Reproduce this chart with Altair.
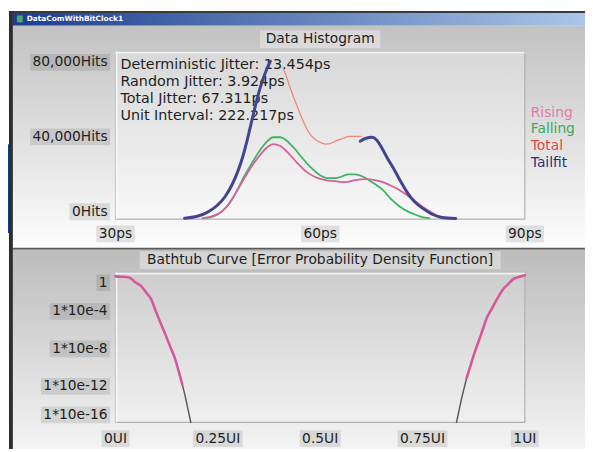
import altair as alt
import pandas as pd

FONT = "DejaVu Sans"

# ------------------------------------------------------------------ data
rising_ps = [42.72, 44.16, 45.18, 46.34, 47.49, 48.80, 49.95, 51.11, 52.12, 53.13,
             54.15, 55.30, 56.46, 57.90, 59.35, 60.80, 62.24, 63.69, 65.13, 66.58,
             68.02, 69.18, 70.19, 71.35, 72.65, 73.81, 74.96, 76.27, 77.71, 79.30]
rising_hits = [465, 1395, 2791, 6047, 11628, 19070, 25116, 30233, 33953, 35814,
               34884, 31628, 27442, 22791, 20000, 18605, 18140, 17674, 18605, 19070,
               18605, 17674, 16279, 14419, 11628, 8837, 6047, 3256, 930, 465]

falling_ps = [43.01, 44.46, 45.61, 46.77, 47.78, 48.80, 49.95, 51.11, 52.12, 53.13,
              54.15, 55.01, 56.17, 57.47, 58.63, 59.78, 61.08, 62.24, 63.25, 64.12,
              65.13, 66.15, 67.16, 68.02, 69.18, 70.48, 71.64, 72.80, 73.81, 74.96, 75.98]
falling_hits = [465, 1395, 3721, 7907, 13488, 20000, 26512, 32558, 36744, 39070,
                39070, 37674, 33953, 28837, 24651, 21395, 19535, 19535, 20465, 21395,
                21395, 20465, 18605, 16744, 13953, 9302, 6047, 3721, 2326, 930, 465]

total_ps = [54.58, 55.01, 55.59, 56.17, 56.89, 57.62, 58.34, 59.06, 59.93, 60.80,
            61.66, 62.53, 63.40, 64.27, 65.13, 66.00]
total_hits = [72093, 68372, 62791, 57674, 51628, 46047, 41395, 38605, 36744, 35814,
              36279, 37674, 38605, 39535, 39535, 39535]

tailfit_left_ps = [40.12, 42.00, 43.45, 44.89, 46.05, 47.06, 47.93, 48.65, 49.23,
                   49.81, 50.39, 50.97, 51.54, 52.12, 52.70]
tailfit_left_hits = [465, 1395, 3256, 6512, 10698, 16279, 22791, 29767, 36744,
                     44651, 52558, 60000, 66047, 71163, 75349]
tailfit_right_ps = [65.86, 66.72, 67.59, 68.31, 69.04, 69.90, 70.92, 71.93, 72.80,
                    73.81, 75.25, 76.41, 77.71, 79.88]
tailfit_right_hits = [37209, 38605, 39070, 37674, 33953, 28837, 23256, 17209, 12558,
                      8372, 4651, 2326, 930, 300]

bathtub_left_ui = [0.0, 0.015, 0.031, 0.040, 0.047, 0.063, 0.075, 0.087, 0.096, 0.104,
                   0.113, 0.123, 0.134, 0.145, 0.155, 0.163]
bathtub_left_ber = [3.8e-1, 3.5e-1, 3.0e-1, 1.9e-1, 1.0e-1, 3.4e-2, 7.0e-3, 1.4e-3,
                    1.4e-4, 1.8e-5, 2.0e-6, 1.8e-7, 1.1e-8, 7.0e-10, 2.2e-11, 1.2e-12]
bathtub_left_ext_ui = [0.163, 0.171, 0.177, 0.184]
bathtub_left_ext_ber = [1.2e-12, 4.3e-14, 2.6e-15, 1.0e-16]

bathtub_right_ui = [0.858, 0.866, 0.875, 0.883, 0.892, 0.899, 0.906, 0.917, 0.928,
                    0.938, 0.947, 0.959, 0.971, 0.985, 1.0]
bathtub_right_ber = [5.5e-12, 7.6e-11, 1.4e-9, 1.4e-8, 1.8e-7, 1.4e-6, 1.1e-5, 8.9e-5,
                     6.9e-4, 4.0e-3, 1.6e-2, 5.5e-2, 1.8e-1, 3.2e-1, 5.0e-1]
bathtub_right_ext_ui = [0.833, 0.840, 0.846, 0.852, 0.858]
bathtub_right_ext_ber = [1.0e-16, 2.6e-15, 4.3e-14, 5.0e-13, 5.5e-12]

stats_lines = ["Deterministic Jitter: 13.454ps", "Random Jitter: 3.924ps",
               "Total Jitter: 67.311ps", "Unit Interval: 222.217ps"]
legend_names = ["Rising", "Falling", "Total", "Tailfit"]
legend_colors = ["#e27aac", "#3aa85a", "#e4493f", "#2b2f7a"]

hist_ticks = [0, 40000, 80000]
hist_tick_labels = ["0Hits", "40,000Hits", "80,000Hits"]
ps_ticks = [30, 60, 90]
ps_tick_labels = ["30ps", "60ps", "90ps"]
ber_ticks = [1, 1e-4, 1e-8, 1e-12, 1e-16]
ber_tick_labels = ["1", "1*10e-4", "1*10e-8", "1*10e-12", "1*10e-16"]
ui_ticks = [0, 0.25, 0.5, 0.75, 1]
ui_tick_labels = ["0UI", "0.25UI", "0.5UI", "0.75UI", "1UI"]

window_title = "DataComWithBitClock1"
hist_title = "Data Histogram"
bathtub_title = "Bathtub Curve [Error Probability Density Function]"

# ------------------------------------------------------------------ layout (page px)
PX0, PW = 117, 415
U_Y0, U_H = 49, 170
L_Y0, L_H = 273, 152
FS = 14

ONE = pd.DataFrame({"k": [0]})

W = {c: 0.636 for c in "0123456789"}
W.update({",": 0.318, ".": 0.318, "*": 0.5, "-": 0.361, "e": 0.615, "H": 0.752,
          "i": 0.278, "t": 0.392, "s": 0.521, "p": 0.635, "U": 0.732, "I": 0.295})


def text_w(s, size=FS):
    return sum(W.get(c, 0.6) for c in s) * size


def vgrad(c1, c2):
    return {"gradient": "linear", "x1": 0, "y1": 0, "x2": 0, "y2": 1,
            "stops": [{"offset": 0, "color": c1}, {"offset": 1, "color": c2}]}


def hgrad(c1, c2):
    return {"gradient": "linear", "x1": 0, "y1": 0, "x2": 1, "y2": 0,
            "stops": [{"offset": 0, "color": c1}, {"offset": 1, "color": c2}]}


def deco_rect(x1, y1, x2, y2, oy, **mark):
    return alt.Chart(ONE).mark_rect(**mark).encode(
        x=alt.value(x1 - PX0), x2=alt.value(x2 - PX0),
        y=alt.value(y1 - oy), y2=alt.value(y2 - oy))


def deco_text(s, x, y, oy, **mark):
    m = dict(font=FONT, fontSize=FS, color="#1e1e1e", baseline="middle", align="left")
    m.update(mark)
    return alt.Chart(pd.DataFrame({"t": [s]})).mark_text(**m).encode(
        x=alt.value(x - PX0), y=alt.value(y - oy), text="t:N")


def y_labels(ticks, labels, scale, top_off, mid_off, bot_off):
    layers = []
    vmax, vmin = max(ticks), min(ticks)
    for v, lab in zip(ticks, labels):
        off = top_off if v == vmax else (bot_off if v == vmin else mid_off)
        w = text_w(lab)
        base = alt.Chart(pd.DataFrame({"v": [v], "label": [lab]}))
        yenc = alt.Y("v:Q", scale=scale, axis=None)
        layers.append(base.mark_rect(fill="#000000", fillOpacity=0.1,
                                     yOffset=off - 8.5, y2Offset=off + 8.5).encode(
            x=alt.value(-8 - w - 2.5), x2=alt.value(-5.5), y=yenc, y2=alt.Y2("v")))
        layers.append(base.mark_text(font=FONT, fontSize=FS, color="#1e1e1e",
                                     align="right", baseline="middle", dy=off).encode(
            x=alt.value(-8), y=yenc, text="label:N"))
    return layers


def x_labels(ticks, labels, scale, yc):
    layers = []
    for v, lab in zip(ticks, labels):
        half = text_w(lab) / 2 + 2.5
        base = alt.Chart(pd.DataFrame({"v": [v], "label": [lab]}))
        xenc = alt.X("v:Q", scale=scale, axis=None)
        layers.append(base.mark_rect(fill="#000000", fillOpacity=0.1,
                                     xOffset=-half, x2Offset=half).encode(
            x=xenc, x2=alt.X2("v"), y=alt.value(yc - 8.5), y2=alt.value(yc + 8.5)))
        layers.append(base.mark_text(font=FONT, fontSize=FS, color="#1e1e1e",
                                     align="center", baseline="middle").encode(
            x=xenc, y=alt.value(yc), text="label:N"))
    return layers


ps_scale = alt.Scale(domain=[30, 90], nice=False, zero=False)
hits_scale = alt.Scale(domain=[0, 80000], nice=False)
ui_scale = alt.Scale(domain=[0, 1], nice=False, zero=False)
ber_scale = alt.Scale(type="log", domain=[1e-16, 1], nice=False)


def curve(xs, ys, parts, xscale, yscale, color, width):
    df = pd.DataFrame({"x": xs, "y": ys, "part": parts})
    return alt.Chart(df).mark_line(color=color, strokeWidth=width, interpolate="monotone",
                                   strokeCap="round", strokeJoin="round").encode(
        x=alt.X("x:Q", scale=xscale, axis=None),
        y=alt.Y("y:Q", scale=yscale, axis=None),
        detail="part:N")


# ------------------------------------------------------------------ upper panel
U = U_Y0
upper_layers = [
    deco_rect(8, 8, 593, 452, U, fill="white"),
    deco_rect(9, 8, 593, 10, U, fill="#3a3a3a"),
    deco_rect(9, 8, 13, 452, U, fill="#2e2e2e"),
    deco_rect(8, 143, 9, 233, U, fill="#0b3a8e"),
    deco_rect(13, 10, 593, 23, U, fill=hgrad("#1b3d8d", "#aac6ea")),
    deco_rect(17, 12.5, 23, 19.5, U, fill="#4aa870"),
    deco_text(window_title, 27, 16.5, U, fontSize=7.5, fontWeight="bold", color="white"),
    deco_rect(13, 23, 593, 248, U, fill=vgrad("#c2c2c2", "#fdfdfd")),
    deco_rect(13, 248, 593, 250, U, fill="#5a5a5a"),
    deco_rect(PX0, U_Y0, PX0 + PW, U_Y0 + U_H, U, fill=vgrad("#d8d8d8", "#f8f8f8"),
              stroke="#b0b0b0", strokeWidth=1.2),
    deco_rect(PX0, U_Y0, PX0 + 2, U_Y0 + U_H, U, fill="white", fillOpacity=0.7),
    deco_rect(PX0, U_Y0, PX0 + PW, U_Y0 + 2, U, fill="white", fillOpacity=0.7),
    deco_rect(263.5, 27.5, 385.5, 45.5, U, fill="white", fillOpacity=0.35),
    deco_text(hist_title, 324.5, 36.5, U, align="center"),
]
upper_layers += y_labels(hist_ticks, hist_tick_labels, hits_scale, 11, 1.5, -7.5)
upper_layers += x_labels(ps_ticks, ps_tick_labels, ps_scale, 234 - U_Y0)
for i, line in enumerate(stats_lines):
    upper_layers.append(deco_text(line, 122, 63 + 17 * i, U, fontSize=14.5))
for i, (name, col) in enumerate(zip(legend_names, legend_colors)):
    upper_layers.append(deco_text(name, 538, 111 + 16.9 * i, U, color=col))

upper_layers += [
    curve(falling_ps, falling_hits, ["f"] * len(falling_ps), ps_scale, hits_scale, "#3cb464", 1.8),
    curve(rising_ps, rising_hits, ["r"] * len(rising_ps), ps_scale, hits_scale, "#d8609a", 1.8),
    curve(total_ps, total_hits, ["t"] * len(total_ps), ps_scale, hits_scale, "#f08878", 1.3),
    curve(tailfit_left_ps + tailfit_right_ps, tailfit_left_hits + tailfit_right_hits,
          ["a"] * len(tailfit_left_ps) + ["b"] * len(tailfit_right_ps),
          ps_scale, hits_scale, "#43438f", 3),
]

upper = alt.layer(*upper_layers).properties(width=PW, height=U_H)

# ------------------------------------------------------------------ lower panel
L = L_Y0
lower_layers = [
    deco_rect(13, 250, 593, 452, L, fill=vgrad("#bcbcbc", "#f4f4f4")),
    deco_rect(PX0, L_Y0, PX0 + PW, L_Y0 + L_H, L, fill=vgrad("#cdcdcd", "#f0f0f0"),
              stroke="#b0b0b0", strokeWidth=1.2),
    deco_rect(PX0, L_Y0, PX0 + 2, L_Y0 + L_H, L, fill="white", fillOpacity=0.7),
    deco_rect(PX0, L_Y0, PX0 + PW, L_Y0 + 2, L, fill="white", fillOpacity=0.7),
    deco_rect(141.5, 251.5, 507.5, 269.5, L, fill="white", fillOpacity=0.35),
    deco_text(bathtub_title, 324.5, 260.5, L, align="center"),
]
lower_layers += y_labels(ber_ticks, ber_tick_labels, ber_scale, 10.5, 1.5, -7.5)
lower_layers += x_labels(ui_ticks, ui_tick_labels, ui_scale, 441.5 - L_Y0)
lower_layers += [
    curve(bathtub_left_ext_ui + bathtub_right_ext_ui, bathtub_left_ext_ber + bathtub_right_ext_ber,
          ["a"] * len(bathtub_left_ext_ui) + ["b"] * len(bathtub_right_ext_ui),
          ui_scale, ber_scale, "#5a5a5a", 1.5),
    curve(bathtub_left_ui + bathtub_right_ui, bathtub_left_ber + bathtub_right_ber,
          ["a"] * len(bathtub_left_ui) + ["b"] * len(bathtub_right_ui),
          ui_scale, ber_scale, "#d4589a", 2.6),
]

lower = alt.layer(*lower_layers).properties(width=PW, height=L_H)

chart = alt.vconcat(upper, lower, spacing=L_Y0 - U_Y0 - U_H, bounds="flush").properties(
    padding=0, autosize=alt.AutoSizeParams(type="pad"), background="white"
).configure_view(stroke=None)

chart.save("out.html", embed_options={"renderer": "svg", "actions": False})
